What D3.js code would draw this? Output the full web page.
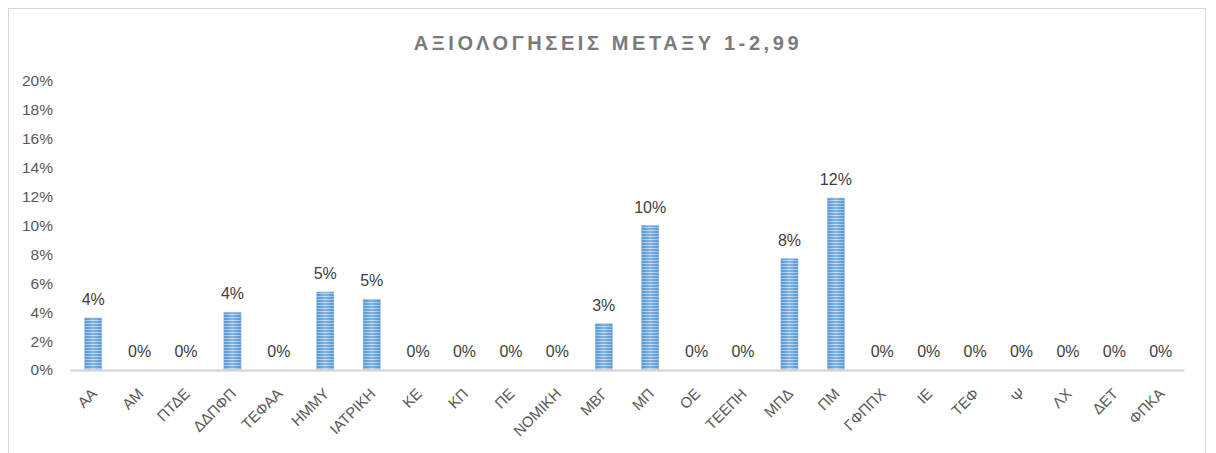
<!DOCTYPE html>
<html><head><meta charset="utf-8">
<script src="https://cdn.jsdelivr.net/npm/d3@7"></script>
<style>
html,body{margin:0;padding:0;background:#fff;}
svg{display:block;}
</style></head>
<body>
<svg id="chart" width="1216" height="453"></svg>
<script>
const categories = ["ΑΑ","ΑΜ","ΠΤΔΕ","ΔΔΠΦΠ","ΤΕΦΑΑ","ΗΜΜΥ","ΙΑΤΡΙΚΗ","ΚΕ","ΚΠ","ΠΕ","ΝΟΜΙΚΗ","ΜΒΓ","ΜΠ","ΟΕ","ΤΕΕΠΗ","ΜΠΔ","ΠΜ","ΓΦΠΠΧ","ΙΕ","ΤΕΦ","Ψ","ΛΧ","ΔΕΤ","ΦΠΚΑ"];
const values = [0.036,0,0,0.040,0,0.054,0.049,0,0,0,0,0.032,0.100,0,0,0.077,0.119,0,0,0,0,0,0,0];
const yTicks = [0,0.02,0.04,0.06,0.08,0.10,0.12,0.14,0.16,0.18,0.20];
const title = "ΑΞΙΟΛΟΓΗΣΕΙΣ ΜΕΤΑΞΥ 1-2,99";

const svg = d3.select("#chart");
const font = "'Liberation Sans', Arial, sans-serif";

// chart frame
svg.append("rect").attr("x",8.5).attr("y",8.5).attr("width",1197).attr("height",460)
  .attr("fill","#fff").attr("stroke","#d9d9d9").attr("stroke-width",1);

const m = {left:70, right:1184, top:81, bottom:370};
const x = d3.scaleBand().domain(categories).range([m.left, m.right]).paddingInner(0.63).paddingOuter(0.315);
const y = d3.scaleLinear().domain([0,0.20]).range([m.bottom, m.top]);

// pattern for bars
const defs = svg.append("defs");
const pat = defs.append("pattern").attr("id","stripes").attr("patternUnits","userSpaceOnUse")
  .attr("width",4).attr("height",3);
pat.append("rect").attr("width",4).attr("height",3).attr("fill","#b4d2ef");
pat.append("rect").attr("width",4).attr("height",2).attr("fill","#5b9bd5");
const grad = defs.append("linearGradient").attr("id","shade").attr("x1","0").attr("x2","1").attr("y1","0").attr("y2","0");
grad.append("stop").attr("offset","0").attr("stop-color","#3f7fc0").attr("stop-opacity",0.25);
grad.append("stop").attr("offset","0.5").attr("stop-color","#ffffff").attr("stop-opacity",0.25);
grad.append("stop").attr("offset","1").attr("stop-color","#3f7fc0").attr("stop-opacity",0.25);

// title
svg.append("text").attr("x",608).attr("y",50).attr("text-anchor","middle")
  .attr("font-family",font).attr("font-size",20).attr("font-weight","bold")
  .attr("letter-spacing","3.6px").attr("fill","#7a7a7a").text(title);

// y axis
const yAxis = d3.axisLeft(y).tickValues(yTicks).tickFormat(d3.format(".0%")).tickSize(0).tickPadding(17);
const gy = svg.append("g").attr("transform",`translate(${m.left},0)`).call(yAxis);
gy.select(".domain").remove();
gy.selectAll("text").attr("font-family",font).attr("font-size",15.5).attr("fill","#595959");

// bars
const bars = svg.append("g");
bars.selectAll("rect.bar").data(values).join("rect").attr("class","bar")
  .attr("x",(d,i)=>x(categories[i])).attr("width",x.bandwidth())
  .attr("y",d=>y(d)).attr("height",d=>y(0)-y(d)).attr("fill","url(#stripes)");
bars.selectAll("rect.shade").data(values).join("rect").attr("class","shade")
  .attr("x",(d,i)=>x(categories[i])).attr("width",x.bandwidth())
  .attr("y",d=>y(d)).attr("height",d=>y(0)-y(d)).attr("fill","url(#shade)")
  .attr("stroke","#9dc3e6").attr("stroke-width",0.6);

// x axis
const xAxis = d3.axisBottom(x).tickSize(0).tickPadding(0);
const gx = svg.append("g").attr("transform",`translate(0,${m.bottom})`).call(xAxis);
gx.select(".domain").attr("stroke","#d9d9d9").attr("stroke-width",2.5);
gx.selectAll("text").attr("font-family",font).attr("font-size",15).attr("fill","#595959")
  .attr("text-anchor","end").attr("x",0).attr("y",0).attr("dy","0.35em")
  .attr("transform","translate(1,21) rotate(-45)");

// data labels
svg.append("g").selectAll("text").data(values).join("text")
  .attr("x",(d,i)=>x(categories[i])+x.bandwidth()/2)
  .attr("y",d=>y(d)-13).attr("text-anchor","middle")
  .attr("font-family",font).attr("font-size",16).attr("fill","#404040")
  .text(d=>d3.format(".0%")(d));
</script>
</body></html>
